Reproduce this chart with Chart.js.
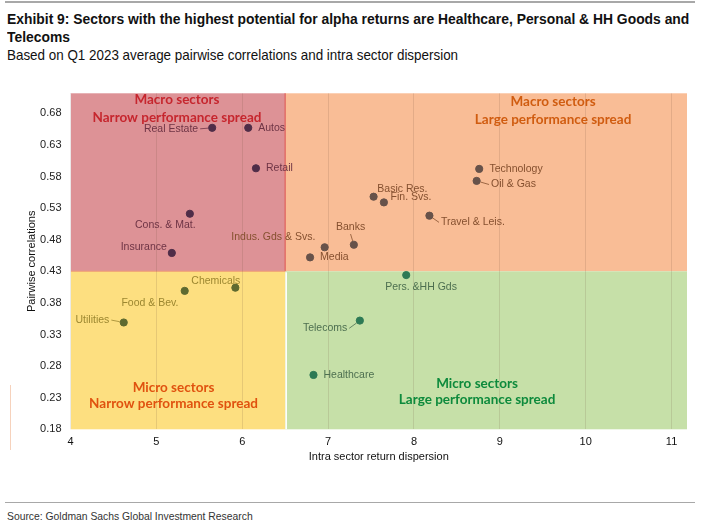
<!DOCTYPE html>
<html>
<head>
<meta charset="utf-8">
<script src="https://cdn.jsdelivr.net/npm/chart.js@4.4.1/dist/chart.umd.min.js"></script>
<style>
  body { margin: 0; width: 703px; height: 528px; background: #fff; position: relative; overflow: hidden; }
  .rule { position: absolute; left: 5px; width: 690px; background: #a8a8a8; }
  #titel { position: absolute; left: 7px; top: 10px; white-space: nowrap; font: bold 15px/18px "Liberation Sans Narrow", "Arial Narrow", sans-serif; color: #111; transform: scaleX(0.925); transform-origin: left top; }
  #alcim { position: absolute; left: 7px; top: 46px; white-space: nowrap; font: 14.5px/18px "Liberation Sans Narrow", "Arial Narrow", sans-serif; color: #111; transform: scaleX(0.925); transform-origin: left top; }
  #forras { position: absolute; left: 7px; top: 509px; white-space: nowrap; font: 11.5px/14px "Liberation Sans Narrow", "Arial Narrow", sans-serif; color: #333; transform: scaleX(0.9); transform-origin: left top; }
  #holder { position: absolute; left: 0; top: 70px; width: 703px; height: 400px; }
  #csik { position: absolute; left: 10px; top: 385px; width: 1px; height: 65px; background: #f6d2bc; }
</style>
</head>
<body>
<div class="rule" style="top:1px;height:2px;"></div>
<div id="titel">Exhibit 9: Sectors with the highest potential for alpha returns are Healthcare, Personal &amp; HH Goods and<br>Telecoms</div>
<div id="alcim">Based on Q1 2023 average pairwise correlations and intra sector dispersion</div>
<div id="holder"><canvas id="abra" width="703" height="400"></canvas></div>
<div id="csik"></div>
<div class="rule" style="top:502px;height:1px;"></div>
<div id="forras">Source: Goldman Sachs Global Investment Research</div>

<script>
// Szektorok és értékek
const szektorok = ["Real Estate", "Autos", "Retail", "Cons. & Mat.", "Insurance", "Indus. Gds & Svs.",
  "Technology", "Oil & Gas", "Basic Res.", "Fin. Svs.", "Travel & Leis.", "Banks", "Media",
  "Pers. &HH Gds", "Telecoms", "Healthcare", "Chemicals", "Food & Bev.", "Utilities"];
const diszperzio = [5.65, 6.07, 6.16, 5.39, 5.18, 6.96,
  8.76, 8.73, 7.53, 7.65, 8.18, 7.30, 6.79,
  7.91, 7.37, 6.83, 5.92, 5.33, 4.62];
const korrelacio = [0.657, 0.657, 0.593, 0.521, 0.459, 0.468,
  0.592, 0.573, 0.548, 0.539, 0.518, 0.472, 0.452,
  0.424, 0.352, 0.266, 0.404, 0.399, 0.349];

const xTicks = [4, 5, 6, 7, 8, 9, 10, 11];
const yTicks = [0.18, 0.23, 0.28, 0.33, 0.38, 0.43, 0.48, 0.53, 0.58, 0.63, 0.68];
const xMin = 4, xMax = 11.18, yMin = 0.18, yMax = 0.7116;
const xHatar = 6.5, yHatar = 0.43;

// Negyedek: kitöltés, pont, felirat és cím színek
const negyedek = {
  voros:   { fill: "#dd9296", pont: "#4f2d48", szoveg: "#6e3445", cim: "#c6262e", sorok: ["Macro sectors", "Narrow performance spread"], cx: 5.24, dy: [6.5, 24], felul: true },
  narancs: { fill: "#f9bd96", pont: "#67524a", szoveg: "#85502f", cim: "#d05c10", sorok: ["Macro sectors", "Large performance spread"], cx: 9.62, dy: [8.4, 26], felul: true },
  sarga:   { fill: "#fddf80", pont: "#5e6a30", szoveg: "#9c8730", cim: "#e0520f", sorok: ["Micro sectors", "Narrow performance spread"], cx: 5.2, dy: [41.3, 26], felul: false },
  zold:    { fill: "#c6e0a8", pont: "#2d7a55", szoveg: "#4d6f50", cim: "#0d8a3c", sorok: ["Micro sectors", "Large performance spread"], cx: 8.735, dy: [46, 30], felul: false }
};

// Felirat eltolások: [dx, dy, igazítás, vezetővonal]
const feliratHely = {
  "Real Estate": [-14, 1, "right", true], "Autos": [10, 0, "left"], "Retail": [10, 0, "left"],
  "Cons. & Mat.": [-24.5, 11.3, "center"], "Insurance": [-5, -5.6, "right"], "Indus. Gds & Svs.": [-9.3, -10, "right"],
  "Technology": [10.3, 0, "left"], "Oil & Gas": [14.4, 3.6, "left", true], "Basic Res.": [3.7, -7.4, "left"],
  "Fin. Svs.": [6.7, -5, "left"], "Travel & Leis.": [11.6, 6.7, "left", true], "Banks": [-3.3, -17.7, "center", true],
  "Media": [10, 0, "left"], "Pers. &HH Gds": [14.8, 12, "center"], "Telecoms": [-12.6, 7.7, "right", true],
  "Healthcare": [10, 0, "left"], "Chemicals": [5, -6.7, "right"], "Food & Bev.": [-6.3, 12.6, "right"],
  "Utilities": [-14.4, -2.4, "right", true]
};

function negyedOf(x, y) {
  if (y >= yHatar) return x < xHatar ? "voros" : "narancs";
  return x < xHatar ? "sarga" : "zold";
}

const csoportok = ["voros", "narancs", "sarga", "zold"];
const adatsorok = csoportok.map((kulcs) => {
  const pontok = [];
  szektorok.forEach((nev, i) => {
    if (negyedOf(diszperzio[i], korrelacio[i]) === kulcs) {
      pontok.push({ x: diszperzio[i], y: korrelacio[i], nev: nev });
    }
  });
  return {
    label: kulcs,
    data: pontok,
    backgroundColor: negyedek[kulcs].pont,
    borderColor: negyedek[kulcs].pont,
    borderWidth: 1,
    pointRadius: 3.6,
    pointHoverRadius: 3.6
  };
});

// Negyedek háttere
const hatterPlugin = {
  id: "hatter",
  beforeDraw(chart) {
    const { ctx, scales: { x, y } } = chart;
    const x0 = x.getPixelForValue(xMin), x1 = x.getPixelForValue(xHatar), x2 = x.getPixelForValue(xMax);
    const y0 = y.getPixelForValue(yMax), y1 = y.getPixelForValue(yHatar), y2 = y.getPixelForValue(yMin);
    ctx.save();
    ctx.fillStyle = negyedek.narancs.fill; ctx.fillRect(x1, y0, x2 - x1, y1 - y0);
    ctx.fillStyle = negyedek.zold.fill; ctx.fillRect(x1, y1, x2 - x1, y2 - y1);
    ctx.fillStyle = negyedek.sarga.fill; ctx.fillRect(x0, y1, x1 - x0, y2 - y1);
    ctx.fillStyle = negyedek.voros.fill; ctx.fillRect(x0, y0, x1 - x0, y1 - y0);
    ctx.strokeStyle = "#e0605a"; ctx.lineWidth = 1.2;
    ctx.beginPath(); ctx.moveTo(x1, y0); ctx.lineTo(x1, y1); ctx.stroke();
    ctx.strokeStyle = "#f0a070"; ctx.lineWidth = 1;
    ctx.beginPath(); ctx.moveTo(x0, y1); ctx.lineTo(x1, y1); ctx.stroke();
    ctx.strokeStyle = "#ffffff"; ctx.lineWidth = 1.6;
    ctx.beginPath(); ctx.moveTo(x1 + 1, y1 + 1); ctx.lineTo(x1 + 1, y2); ctx.stroke();
    ctx.restore();
  },
  beforeDatasetsDraw(chart) {
    const { ctx, scales: { x, y } } = chart;
    const top = y.getPixelForValue(yMax), bottom = y.getPixelForValue(yMin);
    ctx.save();
    ctx.font = "bold 13.5px Lato, 'Open Sans', sans-serif";
    ctx.textAlign = "center";
    ctx.textBaseline = "middle";
    csoportok.forEach((k) => {
      const n = negyedek[k];
      ctx.fillStyle = n.cim;
      const cx = x.getPixelForValue(n.cx);
      n.sorok.forEach((sor, j) => {
        const py = n.felul ? top + n.dy[j] : bottom - n.dy[j];
        ctx.fillText(sor, cx, py);
      });
    });
    ctx.restore();
  }
};

// Pont feliratok
const feliratPlugin = {
  id: "feliratok",
  afterDatasetsDraw(chart) {
    const { ctx } = chart;
    ctx.save();
    ctx.font = "10.5px 'Liberation Sans', Arial, sans-serif";
    ctx.textBaseline = "middle";
    chart.data.datasets.forEach((ds, di) => {
      const szin = negyedek[csoportok[di]].szoveg;
      const meta = chart.getDatasetMeta(di);
      ds.data.forEach((p, i) => {
        const el = meta.data[i];
        const [dx, dy, igaz, vonal] = feliratHely[p.nev];
        const tx = el.x + dx, ty = el.y + dy;
        ctx.fillStyle = szin;
        ctx.textAlign = igaz;
        ctx.fillText(p.nev, tx, ty);
        if (vonal) {
          let ex = tx, ey = ty;
          if (igaz === "left") ex = tx - 2;
          if (igaz === "right") ex = tx + 2;
          if (igaz === "center") ey = ty + 7;
          const ang = Math.atan2(ey - el.y, ex - el.x);
          ctx.strokeStyle = szin;
          ctx.lineWidth = 0.8;
          ctx.beginPath();
          ctx.moveTo(el.x + Math.cos(ang) * 4, el.y + Math.sin(ang) * 4);
          ctx.lineTo(ex, ey);
          ctx.stroke();
        }
      });
    });
    ctx.restore();
  }
};

new Chart(document.getElementById("abra").getContext("2d"), {
  type: "scatter",
  data: { datasets: adatsorok },
  plugins: [hatterPlugin, feliratPlugin],
  options: {
    responsive: false,
    animation: false,
    layout: { padding: { top: 23.3, right: 16, left: 0, bottom: 0 } },
    plugins: { legend: { display: false }, tooltip: { enabled: false } },
    scales: {
      x: {
        type: "linear",
        min: xMin,
        max: xMax,
        afterBuildTicks: (ax) => { ax.ticks = xTicks.map((v) => ({ value: v })); },
        afterFit: (ax) => { ax.height = 40.7; },
        grid: {
          drawTicks: false,
          color: (c) => (c.tick && c.tick.value === xMin ? "rgba(235,235,235,0.9)" : "rgba(110,80,60,0.16)"),
          lineWidth: 1
        },
        border: { display: false },
        ticks: { padding: 6, color: "#111", font: { family: "'Liberation Sans', Arial, sans-serif", size: 11 } },
        title: { display: true, text: "Intra sector return dispersion", color: "#111", padding: { top: 0, bottom: 6 },
          font: { family: "'Liberation Sans', Arial, sans-serif", size: 11 } }
      },
      y: {
        type: "linear",
        min: yMin,
        max: yMax,
        afterBuildTicks: (ax) => { ax.ticks = yTicks.map((v) => ({ value: v })); },
        afterFit: (ax) => { ax.width = 70.5; },
        grid: { display: false, drawTicks: false },
        border: { display: false },
        ticks: { padding: 9, color: "#222", callback: (v) => v.toFixed(2),
          font: { family: "'Liberation Sans', Arial, sans-serif", size: 11 } },
        title: { display: true, text: "Pairwise correlations", color: "#111", padding: { top: 25, bottom: 0 },
          font: { family: "'Liberation Sans', Arial, sans-serif", size: 11 } }
      }
    }
  }
});
</script>
</body>
</html>
